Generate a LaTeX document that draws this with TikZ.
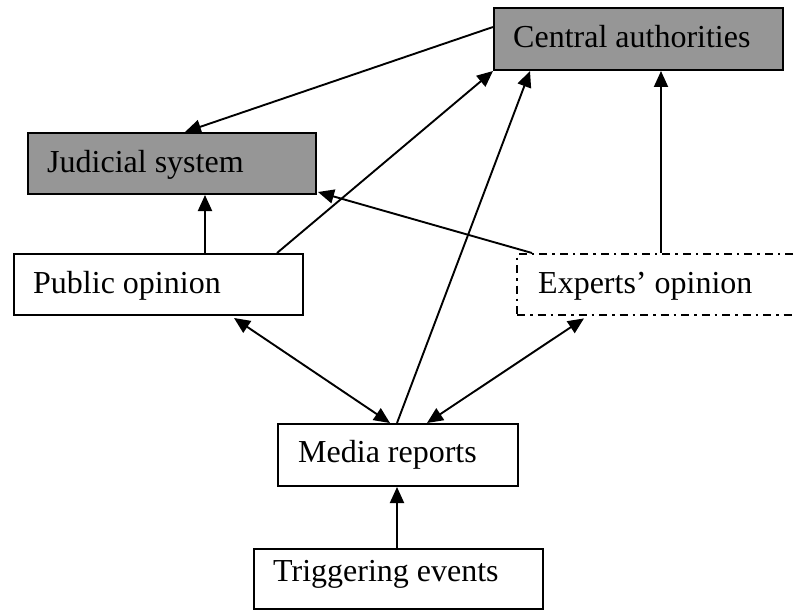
\documentclass[tikz,border=0pt]{standalone}
\usepackage{fontspec}
\setmainfont{Liberation Serif}
\usetikzlibrary{arrows.meta,calc}
\definecolor{boxgray}{RGB}{150,150,150}
\tikzset{
  box/.style={draw=black, line width=2pt, anchor=north west, inner sep=0pt},
  graybox/.style={box, fill=boxgray},
  dashbox/.style={box, line width=2.4pt, dash pattern=on 8pt off 5pt on 2.5pt off 5pt},
  lbl/.style={anchor=base west, inner sep=0pt, font=\fontsize{32}{38}\selectfont},
  tip/.tip={Triangle[length=16pt,width=14pt]},
  conn/.style={line width=1.9pt, -tip},
  conn2/.style={line width=1.9pt, tip-tip}
}
\begin{document}
\begin{tikzpicture}[x=1pt,y=-1pt]
\useasboundingbox (0,0) rectangle (796,610);
\clip (0,0) rectangle (796,610);
\fill[white] (0,0) rectangle (796,610);
% boxes
\node[graybox, minimum width=289pt, minimum height=62pt] (cen) at (493,7) {};
\node[graybox, minimum width=288pt, minimum height=61pt] (jud) at (27,132) {};
\node[box, minimum width=289pt, minimum height=61pt] (pub) at (13,253) {};
\node[dashbox, minimum width=292pt, minimum height=61pt] (exp) at (516,253) {};
\node[box, minimum width=240pt, minimum height=62pt] (med) at (277,423) {};
\node[box, minimum width=289pt, minimum height=60pt] (trg) at (253,548) {};
% labels
\node[lbl] (cent) at ($(cen.north west)+(20,41)$) {Central authorities};
\node[lbl] (judt) at ($(jud.north west)+(20,40)$) {Judicial system};
\node[lbl] (pubt) at ($(pub.north west)+(20,40)$) {Public opinion};
\node[lbl] (expt) at ($(exp.north west)+(22,40)$) {Experts’ opinion};
\node[lbl] (medt) at ($(med.north west)+(21,39)$) {Media reports};
\node[lbl] (trgt) at ($(trg.north west)+(20,33)$) {Triggering events};
% connectors
\draw[conn] ($(cen.north west)+(0,20)$) -- ($(jud.north west)+(158,0)$);
\draw[conn] ($(pub.north west)+(264,0)$) -- ($(cen.south west)+(0,0)$);
\draw[conn] ($(med.north west)+(120,0)$) -- ($(cen.south west)+(37,0)$);
\draw[conn] ($(exp.north west)+(16,0)$) -- ($(jud.south east)+(1,-3)$);
\draw[conn] ($(exp.north west)+(145,0)$) -- ($(cen.south west)+(168,0)$);
\draw[conn] ($(pub.north west)+(192,0)$) -- ($(jud.south west)+(178,0)$);
\draw[conn2] ($(med.north west)+(113,0)$) -- ($(pub.south west)+(221,2)$);
\draw[conn2] ($(med.north west)+(150,0)$) -- ($(exp.south west)+(68,2)$);
\draw[conn] ($(trg.north west)+(144,0)$) -- ($(med.south west)+(120,0)$);
\end{tikzpicture}
\end{document}
